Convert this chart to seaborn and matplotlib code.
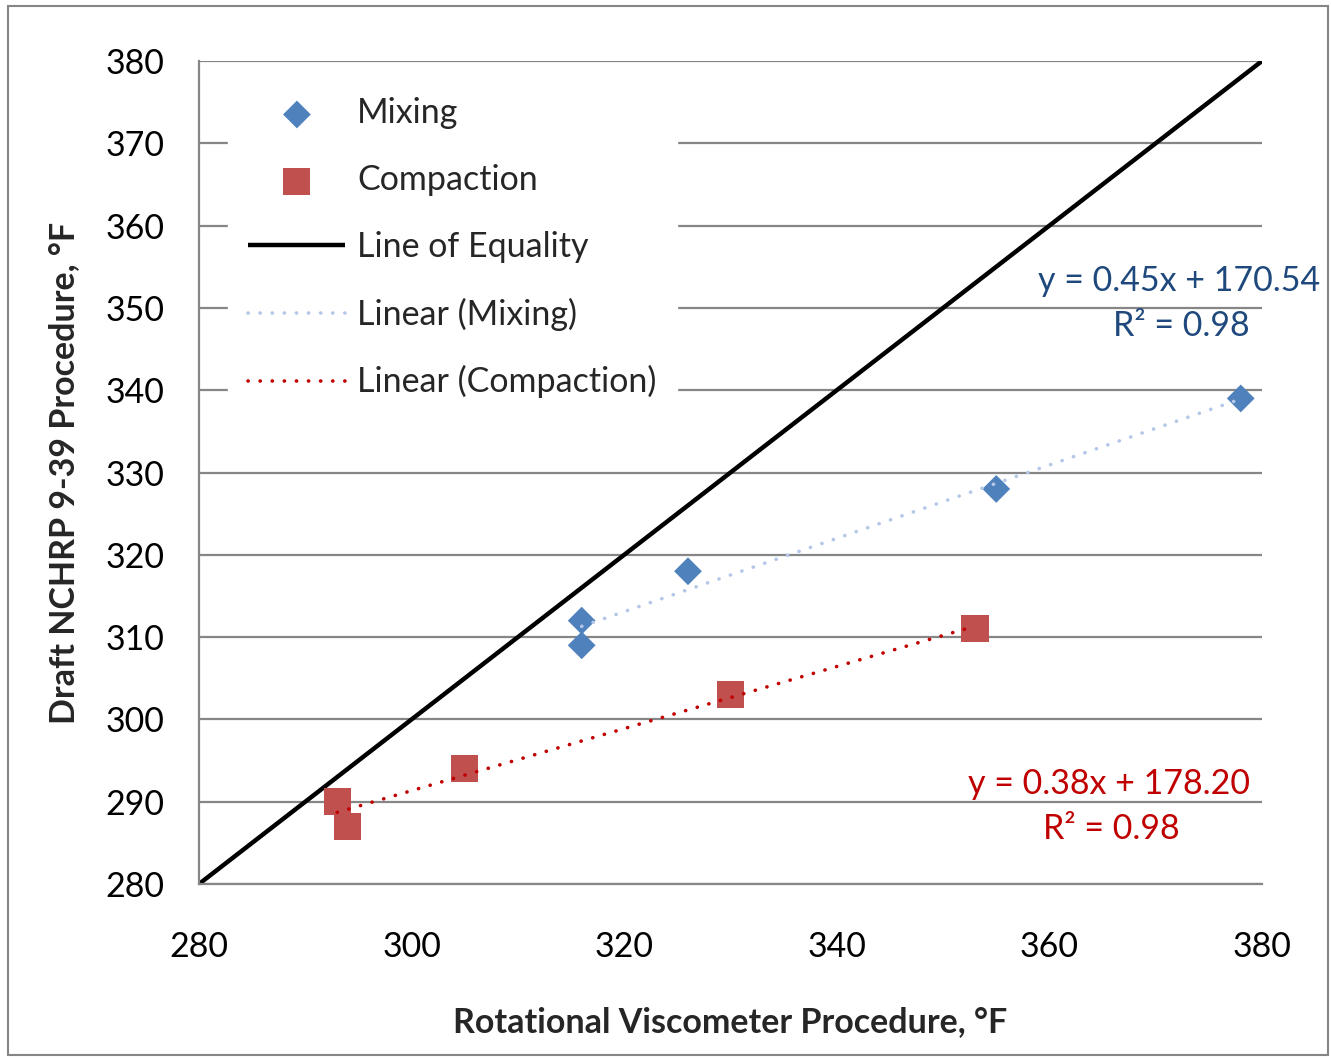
import matplotlib
matplotlib.use("Agg")
import matplotlib.pyplot as plt
from matplotlib.patches import Rectangle
import seaborn as sns
import pandas as pd

# ---- data ----
mix_x = [316, 316, 326, 355, 378]
mix_y = [312, 309, 318, 328, 339]
comp_x = [293, 294, 305, 330, 353]
comp_y = [290, 287, 294, 303, 311]
equality = [280, 380]
ticks = [280, 300, 320, 340, 360, 380]
yticks = [280, 290, 300, 310, 320, 330, 340, 350, 360, 370, 380]
mix_eq = "y = 0.45x + 170.54"
mix_r2 = "R² = 0.98"
comp_eq = "y = 0.38x + 178.20"
comp_r2 = "R² = 0.98"

sns.set_style("white")
plt.rcParams['font.family'] = ['Lato', 'DejaVu Sans']

GRAY = '#868686'
BLUE = '#4F81BD'
RED = '#C0504D'
FS = 24.5

fig = plt.figure(figsize=(13.31, 10.58), dpi=100)
ax = fig.add_axes([199/1331, 1-884/1058, (1262-199)/1331, (884-61)/1058])

mix_df = pd.DataFrame({'x': mix_x, 'y': mix_y})
comp_df = pd.DataFrame({'x': comp_x, 'y': comp_y})

ax.plot(equality, equality, color='black', lw=3.2, label='Line of Equality', zorder=2,
        solid_capstyle='butt')

sns.regplot(data=mix_df, x='x', y='y', ax=ax, scatter=False, ci=None, truncate=True,
            label='Linear (Mixing)',
            line_kws=dict(color='#B4C7E7', lw=2.6, linestyle=(0, (0.05, 3.3)),
                          dash_capstyle='round', zorder=4))
sns.regplot(data=comp_df, x='x', y='y', ax=ax, scatter=False, ci=None, truncate=True,
            label='Linear (Compaction)',
            line_kws=dict(color='#C00000', lw=2.6, linestyle=(0, (0.05, 3.3)),
                          dash_capstyle='round', zorder=4))

sns.scatterplot(data=mix_df, x='x', y='y', ax=ax, marker='D', s=200, color=BLUE,
                edgecolor='none', label='Mixing', zorder=3)
sns.scatterplot(data=comp_df, x='x', y='y', ax=ax, marker='s', s=380, color=RED,
                edgecolor='none', label='Compaction', zorder=3)

ax.set_xlim(280, 380)
ax.set_ylim(280, 380)
ax.set_xticks(ticks)
ax.set_yticks(yticks)
ax.grid(axis='y', color=GRAY, lw=1.6)
ax.grid(axis='x', visible=False)
ax.set_axisbelow(True)
for s in ['top', 'right']:
    ax.spines[s].set_visible(False)
for s in ['left', 'bottom']:
    ax.spines[s].set_color(GRAY)
    ax.spines[s].set_linewidth(1.6)
ax.tick_params(axis='both', which='major', direction='out', length=8, width=1.6,
               color=GRAY, labelsize=FS, labelcolor='black')
ax.tick_params(axis='y', pad=17)
ax.tick_params(axis='x', pad=26)

ax.set_xlabel('Rotational Viscometer Procedure, °F', fontsize=FS, fontweight='bold', labelpad=31)
ax.set_ylabel('Draft NCHRP 9-39 Procedure, °F', fontsize=FS, fontweight='bold', labelpad=18)

# legend in desired order
handles, labels = ax.get_legend_handles_labels()
order = ['Mixing', 'Compaction', 'Line of Equality', 'Linear (Mixing)', 'Linear (Compaction)']
hmap = dict(zip(labels, handles))
leg = ax.legend([hmap[k] for k in order], order, loc='upper left',
                bbox_to_anchor=((228-199)/1063, (884-77)/823), borderaxespad=0,
                fontsize=FS, frameon=True, fancybox=False, framealpha=1,
                facecolor='white', edgecolor='white', handlelength=2.85,
                handletextpad=0.35, labelspacing=1.02, borderpad=0.6)

# trendline equations
ax.text((1320-199)/1063, (884-281)/823, mix_eq, transform=ax.transAxes, ha='right',
        va='center', fontsize=FS, color='#1F497D', clip_on=False)
ax.text((1250-199)/1063, (884-326)/823, mix_r2, transform=ax.transAxes, ha='right',
        va='center', fontsize=FS, color='#1F497D')
ax.text((1250-199)/1063, (884-784)/823, comp_eq, transform=ax.transAxes, ha='right',
        va='center', fontsize=FS, color='#C00000')
ax.text((1180-199)/1063, (884-829)/823, comp_r2, transform=ax.transAxes, ha='right',
        va='center', fontsize=FS, color='#C00000')

fig.patches.append(Rectangle((8/1331, 1-1055/1058), (1328-8)/1331, (1055-6)/1058,
                             transform=fig.transFigure, fill=False, ec=GRAY, lw=1.5))

fig.savefig('out.png', dpi=100)
